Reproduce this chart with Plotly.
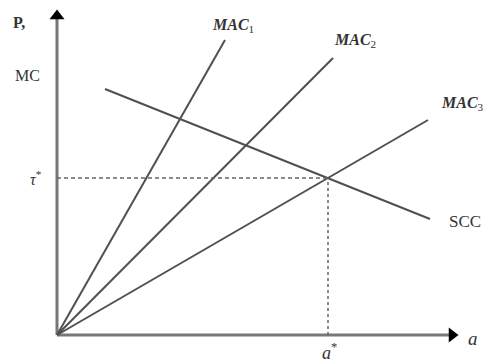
import plotly.graph_objects as go

# Data (chart units: origin at 0,0)
mac_names = ["MAC1", "MAC2", "MAC3"]
mac_x = [[0, 168], [0, 276], [0, 371]]
mac_y = [[0, 295], [0, 277], [0, 215]]
scc_x = [48, 373]
scc_y = [246, 116]
a_star = 271
tau_star = 157
x_axis_end = 401
y_axis_end = 325

line_col = "#505050"
axis_col = "#777777"
font = "Liberation Serif"

fig = go.Figure()
# axes
fig.add_trace(go.Scatter(x=[0, x_axis_end - 6], y=[0, 0], mode="lines",
                         line=dict(color=axis_col, width=3)))
fig.add_trace(go.Scatter(x=[0, 0], y=[0, y_axis_end - 6], mode="lines",
                         line=dict(color=axis_col, width=3)))
fig.add_trace(go.Scatter(x=[x_axis_end - 6], y=[0], mode="markers",
                         marker=dict(symbol="triangle-right", size=13, color="black")))
fig.add_trace(go.Scatter(x=[0], y=[y_axis_end - 6], mode="markers",
                         marker=dict(symbol="triangle-up", size=13, color="black")))

for nm, xs, ys in zip(mac_names, mac_x, mac_y):
    fig.add_trace(go.Scatter(x=xs, y=ys, mode="lines", name=nm,
                             line=dict(color=line_col, width=2)))
fig.add_trace(go.Scatter(x=scc_x, y=scc_y, mode="lines", name="SCC",
                         line=dict(color=line_col, width=2)))
# dashed guides
fig.add_trace(go.Scatter(x=[0, a_star], y=[tau_star, tau_star], mode="lines",
                         line=dict(color="#666", width=1.5, dash="4px,3px")))
fig.add_trace(go.Scatter(x=[a_star, a_star], y=[0, tau_star], mode="lines",
                         line=dict(color="#666", width=1.5, dash="3px,3px")))

def label(x, y, text, size=15):
    fig.add_annotation(x=x, y=y, xref="x", yref="y", text=text, showarrow=False,
                       xanchor="center", yanchor="middle",
                       font=dict(family=font, size=size, color="#333"))

label(-38, 313, "<b>P,</b>", 16)
label(-30, 260, "MC", 16)
label(-21, 157, "<i>τ</i><sup>*</sup>", 16)
label(272, -16, "<i>a</i><sup>*</sup>", 18)
label(416, -3, "<i>a</i>", 19)
label(176, 310, "<b><i>MAC</i></b><sub>1</sub>", 16)
label(298, 295, "<b><i>MAC</i></b><sub>2</sub>", 16)
label(405, 232, "<b><i>MAC</i></b><sub>3</sub>", 16)
label(408, 114, "SCC", 17)

fig.update_layout(
    width=485, height=363, margin=dict(l=0, r=0, t=0, b=0),
    plot_bgcolor="white", paper_bgcolor="white", showlegend=False,
    xaxis=dict(range=[-57, 428], visible=False),
    yaxis=dict(range=[-28, 335], visible=False),
)
fig.write_html("out.html", config={"displayModeBar": False},
               post_script="document.body.style.margin='0';")
